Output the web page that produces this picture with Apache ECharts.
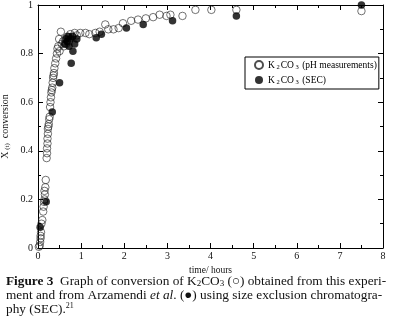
<!doctype html>
<html>
<head>
<meta charset="UTF-8">
<title>K2CO3 conversion</title>
<script src="https://cdn.jsdelivr.net/npm/echarts@6/dist/echarts.min.js"></script>
<style>
  html, body { margin: 0; padding: 0; background: #fff; }
  #main { width: 393px; height: 323px; }
</style>
</head>
<body>
<div id="main"></div>
<script>
// time (hours), conversion X(t) -- pH measurements (open circles)
var phTime = [0.02, 0.04, 0.05, 0.06, 0.06, 0.07, 0.08, 0.10, 0.12, 0.13, 0.14, 0.15, 0.16, 0.15, 0.17, 0.18,
  0.20, 0.21, 0.21, 0.22, 0.22, 0.23, 0.23, 0.24, 0.25, 0.26, 0.27, 0.28, 0.29, 0.30, 0.31, 0.32, 0.33, 0.34,
  0.35, 0.36, 0.37, 0.38, 0.40, 0.42, 0.44, 0.45, 0.47, 0.49, 0.53, 0.50, 0.55, 0.58, 0.60, 0.62, 0.65, 0.68,
  0.72, 0.75, 0.80, 0.85, 0.90, 0.98, 1.10, 1.19, 1.33, 1.43, 1.56, 1.63, 1.75, 1.87, 1.97, 2.16, 2.32, 2.50,
  2.67, 2.82, 2.98, 3.07, 3.35, 3.65, 4.02, 4.60, 7.50];
var phConv = [0.005, 0.01, 0.025, 0.04, 0.05, 0.065, 0.10, 0.115, 0.15, 0.17, 0.19, 0.20, 0.22, 0.235, 0.25, 0.28,
  0.37, 0.39, 0.41, 0.43, 0.45, 0.47, 0.49, 0.50, 0.51, 0.53, 0.54, 0.58, 0.60, 0.62, 0.64, 0.65, 0.66, 0.68,
  0.70, 0.71, 0.72, 0.74, 0.76, 0.78, 0.80, 0.82, 0.83, 0.86, 0.89, 0.81, 0.84, 0.85, 0.83, 0.86, 0.84, 0.87,
  0.85, 0.88, 0.87, 0.885, 0.875, 0.885, 0.885, 0.88, 0.885, 0.89, 0.92, 0.90, 0.90, 0.905, 0.925, 0.935, 0.94, 0.945,
  0.95, 0.96, 0.955, 0.96, 0.955, 0.98, 0.98, 0.98, 0.975];

// size exclusion chromatography (filled circles)
var secTime = [0.05, 0.19, 0.33, 0.50, 0.77, 0.81, 0.62, 0.65, 0.68, 0.70, 0.72, 0.75, 0.80, 0.85, 0.90,
  1.35, 1.47, 2.05, 2.44, 3.12, 4.60, 7.50];
var secConv = [0.085, 0.19, 0.56, 0.68, 0.76, 0.81, 0.84, 0.86, 0.85, 0.87, 0.83, 0.86, 0.87, 0.84, 0.86,
  0.865, 0.88, 0.905, 0.92, 0.935, 0.955, 1.0];

var xTicks = { min: 0, max: 8, step: 1 };
var yTicks = { min: 0, max: 1, step: 0.2 };

var serif = 'Liberation Serif';

function pairs(a, b) {
  return a.map(function (v, i) { return [v, b[i]]; });
}

function frameAxis(pos, t, showLabel) {
  return {
    type: 'value', position: pos, min: t.min, max: t.max, interval: t.step,
    axisLine: { show: true, onZero: false, lineStyle: { color: '#000', width: 1 } },
    axisTick: { show: true, inside: true, length: 5, lineStyle: { color: '#000' } },
    minorTick: { show: true, splitNumber: 2, length: 3, lineStyle: { color: '#000' } },
    splitLine: { show: false },
    axisLabel: { show: showLabel, color: '#111', fontFamily: serif, fontSize: 10 }
  };
}

var xBottom = frameAxis('bottom', xTicks, true);
xBottom.axisLabel.margin = 3;
xBottom.name = 'time/ hours';
xBottom.nameLocation = 'middle';
xBottom.nameGap = 17;
xBottom.nameTextStyle = { fontFamily: serif, fontSize: 9.5, color: '#111' };

var yLeft = frameAxis('left', yTicks, true);
yLeft.axisLabel.margin = 5;
yLeft.name = '{n|X}{s| (t)}{n|  conversion}';
yLeft.nameLocation = 'middle';
yLeft.nameGap = 27;
yLeft.nameMoveOverlap = false;
yLeft.nameTextStyle = {
  fontFamily: serif, fontSize: 10, color: '#111',
  rich: {
    n: { fontFamily: serif, fontSize: 10, color: '#111' },
    s: { fontFamily: serif, fontSize: 7, color: '#111', padding: [4, 0, 0, 0] }
  }
};

var chart = echarts.init(document.getElementById('main'));

var option = {
  animation: false,
  backgroundColor: '#fff',
  grid: { left: 38, right: 10, top: 5, bottom: 75, containLabel: false, outerBoundsMode: 'none' },
  xAxis: [xBottom, frameAxis('top', xTicks, false)],
  yAxis: [yLeft, frameAxis('right', yTicks, false)],
  legend: {
    orient: 'vertical', left: 245, top: 57,
    padding: [3, 2, 3, 9], itemGap: 4,
    itemWidth: 8, itemHeight: 8,
    borderColor: '#000', borderWidth: 1, backgroundColor: '#fff',
    data: ['pH', 'SEC'],
    formatter: function (name) {
      var tail = name === 'pH' ? ' (pH measurements)' : ' (SEC)';
      return '{n|K}{s| 2}{n|CO}{s| 3}{n|' + tail + '}';
    },
    textStyle: {
      fontFamily: serif, fontSize: 9.5, color: '#000',
      rich: {
        n: { fontFamily: serif, fontSize: 9.5, color: '#000' },
        s: { fontFamily: serif, fontSize: 6.5, color: '#000', padding: [5, 1, 0, 0] }
      }
    }
  },
  series: [
    {
      name: 'pH', type: 'scatter', symbol: 'circle', symbolSize: 7.5,
      xAxisIndex: 0, yAxisIndex: 0,
      itemStyle: { color: 'rgba(255,255,255,0)', borderColor: '#222', borderWidth: 0.8 },
      data: pairs(phTime, phConv)
    },
    {
      name: 'SEC', type: 'scatter', symbol: 'circle', symbolSize: 7.5,
      xAxisIndex: 0, yAxisIndex: 0,
      itemStyle: { color: '#000' },
      data: pairs(secTime, secConv)
    }
  ],
  graphic: [
    {
      type: 'text', left: 6, top: 275,
      style: {
        text: '{b|Figure 3}  Graph of conversion of K{s|2}CO{s|3} (○) obtained from this experi-',
        fontFamily: serif, fontSize: 13.3, fill: '#111',
        rich: {
          b: { fontFamily: serif, fontSize: 13.3, fontWeight: 'bold', fill: '#111' },
          s: { fontFamily: serif, fontSize: 9, fill: '#111', padding: [5, 0, 0, 0] }
        }
      }
    },
    {
      type: 'text', left: 6, top: 289,
      style: {
        text: 'ment and from Arzamendi {i|et al}. (●) using size exclusion chromatogra-',
        fontFamily: serif, fontSize: 13.3, fill: '#111',
        rich: {
          i: { fontFamily: serif, fontSize: 13.3, fontStyle: 'italic', fill: '#111' }
        }
      }
    },
    {
      type: 'text', left: 6, top: 302,
      style: {
        text: 'phy (SEC).{u|21}',
        fontFamily: serif, fontSize: 13.3, fill: '#111',
        rich: {
          u: { fontFamily: serif, fontSize: 8, fill: '#111', padding: [0, 0, 7, 0] }
        }
      }
    }
  ]
};

chart.setOption(option);
</script>
</body>
</html>
